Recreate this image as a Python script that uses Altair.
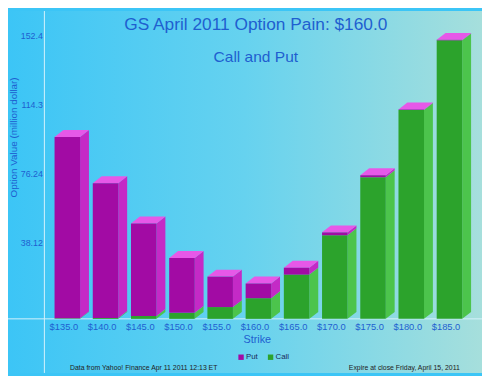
import altair as alt
import pandas as pd

# ---- data ----
strikes = [135, 140, 145, 150, 155, 160, 165, 170, 175, 180, 185]
call_values = [0.3, 0.5, 1.6, 3.3, 6.5, 11.4, 24.4, 46.1, 78.1, 115.2, 153.6]
put_values = [100.0, 74.3, 51.0, 30.3, 16.8, 8.1, 3.8, 1.6, 1.1, 0.3, 0.3]
y_ticks = [38.12, 76.24, 114.3, 152.4]
series = ["Put", "Call"]

title_text = "GS April 2011 Option Pain: $160.0"
subtitle_text = "Call and Put"
note_left = "Data from Yahoo! Finance Apr 11 2011 12:13 ET"
note_right = "Expire at close Friday, April 15, 2011"

# ---- style ----
FONT = "Liberation Sans"
BLUE = "#1f5fd0"
PUT_FRONT, PUT_SIDE = "#a20ba4", "#c42ac6"
CALL_FRONT, CALL_SIDE = "#2ca32c", "#4cc44c"
TOP = "#e658e8"
LINE = "#d6f2fb"

W, H = 443, 313          # plot area
PAD = {"left": 37, "top": 0, "right": 2, "bottom": 55}
X_DOMAIN = [132, 189]
Y_DOMAIN = [0, 169.74]
HW = 1.67                # half bar width (strike units)
DX = 1.16                # 3D depth (strike units)
DV = 3.8                 # 3D depth (value units)

# ---- tables built from the arrays ----
front_rows, side_rows, top_rows = [], [], []
for s, c, p in zip(strikes, call_values, put_values):
    segs = [("Call", 0.0, c), ("Put", c, c + p)]
    for name, y0, y1 in segs:
        front_rows.append({"strike": s, "series": name, "xl": s - HW, "xr": s + HW,
                           "y0": y0, "y1": y1})
        key = f"{s}-{name}"
        side_rows.append({"key": key, "series": name, "x": s + HW, "lo": y0, "hi": y1})
        side_rows.append({"key": key, "series": name, "x": s + HW + DX, "lo": y0 + DV, "hi": y1 + DV})
    total = c + p
    top_rows.append({"strike": s, "y": total, "xa": s - HW, "xb": s + HW})
    top_rows.append({"strike": s, "y": total + DV, "xa": s - HW + DX, "xb": s + HW + DX})

front_df = pd.DataFrame(front_rows)
side_df = pd.DataFrame(side_rows)
top_df = pd.DataFrame(top_rows)

xs = alt.Scale(domain=X_DOMAIN, nice=False, zero=False)
ys = alt.Scale(domain=Y_DOMAIN, nice=False, zero=True)

x_axis = alt.Axis(values=strikes, title="Strike", zindex=1,
                  labelExpr="'$' + format(datum.value, '.1f')",
                  domain=False, ticks=False, grid=False,
                  labelColor=BLUE, labelFont=FONT, labelFontSize=9.5,
                  labelPadding=3, labelOffset=-4,
                  titleColor=BLUE, titleFont=FONT, titleFontSize=11,
                  titleFontWeight="normal", titlePadding=3, titleX=216)
y_axis = alt.Axis(values=y_ticks, format=".4", title="Option Value (million dollar)",
                  zindex=1, domain=False, ticks=False, grid=False,
                  labelColor=BLUE, labelFont=FONT, labelFontSize=9,
                  labelPadding=2, labelOffset=-7,
                  titleColor=BLUE, titleFont=FONT, titleFontSize=10,
                  titleFontWeight="normal", titleAngle=270,
                  titleX=-31, titleY=128, titleAlign="center",
                  titleBaseline="middle")

# background gradient covering the whole chart
bg = alt.Chart(pd.DataFrame({"a": [0]})).mark_rect(
    fill=alt.LinearGradient(
        gradient="linear",
        stops=[alt.GradientStop(color="#3cc5f6", offset=0),
               alt.GradientStop(color="#66d2ef", offset=0.5),
               alt.GradientStop(color="#a6dfdc", offset=1)],
        x1=0, x2=1, y1=0, y2=0),
    clip=False,
).encode(x=alt.value(-PAD["left"]), x2=alt.value(W + PAD["right"]),
         y=alt.value(0), y2=alt.value(H + PAD["bottom"]))

vline = alt.Chart(pd.DataFrame({"a": [0]})).mark_rule(color=LINE, strokeWidth=1).encode(
    x=alt.value(0), y=alt.value(0), y2=alt.value(H + PAD["bottom"]))
hline = alt.Chart(pd.DataFrame({"a": [0]})).mark_rule(color=LINE, strokeWidth=1).encode(
    y=alt.value(H), x=alt.value(-PAD["left"]), x2=alt.value(W + PAD["right"]))

sides = alt.Chart(side_df).mark_area(orient="vertical", interpolate="linear").encode(
    x=alt.X("x:Q", scale=xs, axis=x_axis),
    y=alt.Y("hi:Q", scale=ys, axis=y_axis),
    y2="lo:Q",
    detail="key:N",
    fill=alt.Fill("series:N", scale=alt.Scale(domain=series, range=[PUT_SIDE, CALL_SIDE]),
                  legend=None),
)

tops = alt.Chart(top_df).mark_area(orient="horizontal", interpolate="linear", color=TOP).encode(
    y=alt.Y("y:Q", scale=ys, axis=y_axis),
    x=alt.X("xa:Q", scale=xs, axis=x_axis),
    x2="xb:Q",
    detail="strike:N",
)

fronts = alt.Chart(front_df).mark_rect().encode(
    x=alt.X("xl:Q", scale=xs, axis=x_axis),
    x2="xr:Q",
    y=alt.Y("y1:Q", scale=ys, axis=y_axis),
    y2="y0:Q",
    fill=alt.Fill("series:N",
                  scale=alt.Scale(domain=series, range=[PUT_FRONT, CALL_FRONT]),
                  legend=alt.Legend(title=None, orient="none", direction="horizontal",
                                    legendX=196, legendY=348, zindex=1,
                                    symbolType="square", symbolSize=30,
                                    symbolStrokeWidth=0,
                                    labelFont=FONT, labelFontSize=8, labelColor="#1a2a5a",
                                    labelOffset=1, columnPadding=8)),
)

def label(text, x, y, size, color=BLUE, align="center", angle=0):
    return alt.Chart(pd.DataFrame({"t": [text]})).mark_text(
        font=FONT, fontSize=size, color=color, align=align, baseline="alphabetic",
        angle=angle).encode(text="t:N", x=alt.value(x), y=alt.value(y))

texts = [
    label(title_text, 215, 19, 17.6),
    label(subtitle_text, 215, 52, 15.8),
    label(note_left, 101, 365, 7, color="#222222"),
    label(note_right, 366, 365, 7, color="#222222"),
]

chart = alt.layer(bg, vline, hline, sides, tops, fronts, *texts).resolve_scale(
    fill="independent"
).properties(
    width=W, height=H,
    autosize=alt.AutoSizeParams(type="none"),
    padding=PAD,
    background="#3cc5f6",
).configure_view(stroke=None)

chart.save("out.html", embed_options={"renderer": "svg", "actions": False})
